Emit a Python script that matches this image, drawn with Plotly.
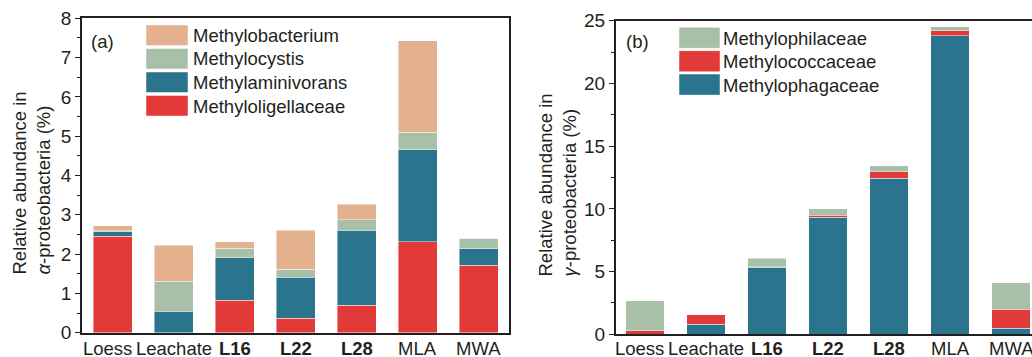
import plotly.graph_objects as go

W, H = 1032, 357
FONT = "Liberation Sans, Arial, sans-serif"
INK = "#231F20"

# ---------------- data ----------------
categories = ["Loess", "Leachate", "L16", "L22", "L28", "MLA", "MWA"]
tick_labels = ["Loess", "Leachate", "<b>L16</b>", "<b>L22</b>", "<b>L28</b>", "MLA", "MWA"]

# (a) alpha-proteobacteria, stacked bottom -> top
methyloligellaceae = [2.46, 0.00, 0.82, 0.37, 0.70, 2.32, 1.72]
methylaminivorans  = [0.11, 0.54, 1.09, 1.04, 1.91, 2.34, 0.41]
methylocystis      = [0.03, 0.77, 0.24, 0.20, 0.27, 0.44, 0.27]
methylobacterium   = [0.12, 0.92, 0.17, 1.00, 0.39, 2.33, 0.00]

# (b) gamma-proteobacteria, stacked bottom -> top
methylophagaceae   = [0.00, 0.80, 5.34, 9.35, 12.46, 23.80, 0.48]
methylococcaceae   = [0.27, 0.77, 0.05, 0.13, 0.48, 0.38, 1.51]
methylophilaceae   = [2.39, 0.00, 0.67, 0.51, 0.50, 0.34, 2.10]

C_RED = "#E23A38"
C_TEAL = "#2A748D"
C_GREEN = "#A8BFA8"
C_TAN = "#E4B18E"

series_a = [("Methyloligellaceae", methyloligellaceae, C_RED),
            ("Methylaminivorans", methylaminivorans, C_TEAL),
            ("Methylocystis", methylocystis, C_GREEN),
            ("Methylobacterium", methylobacterium, C_TAN)]
series_b = [("Methylophagaceae", methylophagaceae, C_TEAL),
            ("Methylococcaceae", methylococcaceae, C_RED),
            ("Methylophilaceae", methylophilaceae, C_GREEN)]

def px(x):
    return x / W

def py(y):
    return 1 - y / H

fig = go.Figure()
edge = dict(color="rgba(255,255,255,0.55)", width=0.8)
for name, vals, col in series_a:
    fig.add_trace(go.Bar(x=categories, y=vals, name=name, marker=dict(color=col, line=edge),
                         width=0.64, xaxis="x", yaxis="y", showlegend=False))
for name, vals, col in series_b:
    fig.add_trace(go.Bar(x=categories, y=vals, name=name, marker=dict(color=col, line=edge),
                         width=0.625, xaxis="x2", yaxis="y2", showlegend=False))

axis_common = dict(showline=True, linecolor=INK, linewidth=1.5, showgrid=False, zeroline=False,
                   automargin=False, tickfont=dict(family=FONT, size=19, color=INK))

fig.update_layout(
    width=W, height=H, barmode="stack",
    margin=dict(l=0, r=0, t=0, b=0),
    paper_bgcolor="white", plot_bgcolor="white",
    font=dict(family=FONT, size=18.5, color=INK),
    xaxis=dict(axis_common, domain=[px(82), px(509)], range=[-0.505, 6.5], mirror=True,
               ticks="", showticklabels=False, anchor="y"),
    yaxis=dict(axis_common, domain=[py(332.7), py(18.3)], range=[0, 8], dtick=1, mirror=True,
               ticks="outside", ticklen=5, tickwidth=1.3, tickcolor=INK,
               minor=dict(ticks="outside", ticklen=3, dtick=0.5, tickwidth=1.2, tickcolor=INK),
               anchor="x"),
    xaxis2=dict(axis_common, domain=[px(615.7), 1.0], range=[-0.48, 6.344], mirror=True,
                ticks="", showticklabels=False, anchor="y2"),
    yaxis2=dict(axis_common, domain=[py(334.3), py(20.7)], range=[0, 25], dtick=5, mirror=False,
                ticks="outside", ticklen=5, tickwidth=1.3, tickcolor=INK,
                minor=dict(ticks="outside", ticklen=3, dtick=2.5, tickwidth=1.2, tickcolor=INK),
                anchor="x2"),
)

annotations = []
shapes = []
TXT = dict(family=FONT, size=18.5, color=INK)

# category labels under each panel, anchored to the category axis
for xa, ya, ysh in (("x", "y", -3), ("x2", "y2", -2)):
    for cat, lab in zip(categories, tick_labels):
        annotations.append(dict(x=cat, y=0, xref=xa, yref=ya + " domain", xanchor="center",
                                yanchor="top", yshift=ysh, xshift=(-5 if cat == "Loess" else 0),
                                text=lab, showarrow=False, font=TXT))

# axis titles
annotations.append(dict(x=px(31), y=py(277), xref="paper", yref="paper", xanchor="center", yanchor="bottom",
                        text="Relative abundance in<br><i>α</i>-proteobacteria (%)", textangle=-90,
                        align="left", showarrow=False, font=TXT))
annotations.append(dict(x=px(557), y=py(279), xref="paper", yref="paper", xanchor="center", yanchor="bottom",
                        text="Relative abundance in<br><i>γ</i>-proteobacteria (%)", textangle=-90,
                        align="left", showarrow=False, font=TXT))
# panel labels
annotations.append(dict(x=px(89), y=py(41), xref="paper", yref="paper", xanchor="left", yanchor="middle",
                        text="(a)", showarrow=False, font=TXT))
annotations.append(dict(x=px(624), y=py(41), xref="paper", yref="paper", xanchor="left", yanchor="middle",
                        text="(b)", showarrow=False, font=TXT))

# custom legends
legend_a = [s for s in reversed(series_a)]
for i, (name, _, col) in enumerate(legend_a):
    top = 25 + i * 23.5
    shapes.append(dict(type="rect", xref="paper", yref="paper", x0=px(146), x1=px(188),
                       y0=py(top + 20.5), y1=py(top), fillcolor=col,
                       line=dict(color="rgba(255,255,255,0.6)", width=0.8)))
    annotations.append(dict(x=px(191), y=py(top + 10.5), xref="paper", yref="paper", xanchor="left",
                            yanchor="middle", text=name, showarrow=False, font=TXT))
legend_b = [s for s in reversed(series_b)]
for i, (name, _, col) in enumerate(legend_b):
    top = 27.3 + i * 23.4
    shapes.append(dict(type="rect", xref="paper", yref="paper", x0=px(679), x1=px(720),
                       y0=py(top + 21), y1=py(top), fillcolor=col,
                       line=dict(color="rgba(255,255,255,0.6)", width=0.8)))
    annotations.append(dict(x=px(721), y=py(top + 11), xref="paper", yref="paper", xanchor="left",
                            yanchor="middle", text=name, showarrow=False, font=TXT))

fig.update_layout(annotations=annotations, shapes=shapes)
fig.write_html("out.html", config=dict(displayModeBar=False))
